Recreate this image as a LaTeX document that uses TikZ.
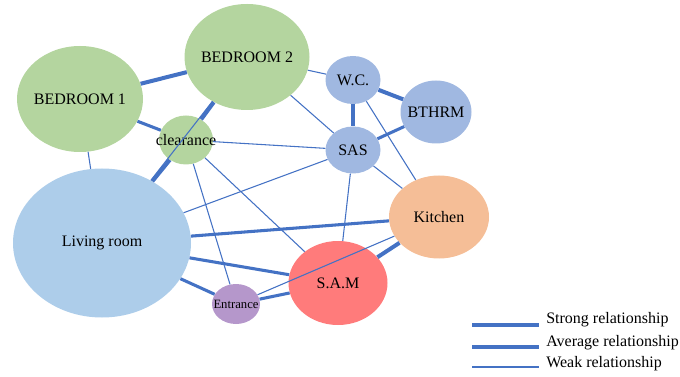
\documentclass[tikz,border=0pt]{standalone}
\usepackage{xcolor}
\usepackage{fontspec}
\setmainfont{Liberation Serif}
\usepackage{tikz}
\usetikzlibrary{shapes.geometric}

\definecolor{roomgreen}{HTML}{B4D59F}
\definecolor{roomblue}{HTML}{A0B8E1}
\definecolor{livblue}{HTML}{ADCDEA}
\definecolor{kitorange}{HTML}{F5BE97}
\definecolor{samred}{HTML}{FF7B7B}
\definecolor{entpurple}{HTML}{B597CB}
\definecolor{linkblue}{HTML}{4472C4}

\begin{document}
\begin{tikzpicture}[x=0.75pt,y=0.75pt,yscale=-1,xscale=1,
  room/.style={ellipse,inner sep=0pt,draw=none},
  strong/.style={draw=linkblue,line width=3pt},
  average/.style={draw=linkblue,line width=2.3pt},
  weak/.style={draw=linkblue,line width=0.8pt},
  every label/.style={font=\fontsize{12}{14}\selectfont,inner sep=0pt}]
\useasboundingbox (0,0) rectangle (680,377);

%Shape: Ellipse [id:bedroom1]
\node[room,fill=roomgreen,minimum width=94.5pt,minimum height=79.5pt,label=center:BEDROOM 1] (bed1) at (80,99) {};
%Shape: Ellipse [id:bedroom2]
\node[room,fill=roomgreen,minimum width=93.75pt,minimum height=79.5pt,label=center:BEDROOM 2] (bed2) at (247,57) {};
%Shape: Ellipse [id:clearance]
\node[room,fill=roomgreen,minimum width=40.5pt,minimum height=36.75pt,label=center:clearance] (clr) at (186,140) {};
%Shape: Ellipse [id:wc]
\node[room,fill=roomblue,minimum width=41.25pt,minimum height=36pt,label=center:W.C.] (wc) at (353,80) {};
%Shape: Ellipse [id:bathroom]
\node[room,fill=roomblue,minimum width=53.25pt,minimum height=47.25pt,label=center:BTHRM] (bth) at (436,112) {};
%Shape: Ellipse [id:sas]
\node[room,fill=roomblue,minimum width=41.25pt,minimum height=35.25pt,label=center:SAS] (sas) at (353,150) {};
%Shape: Ellipse [id:kitchen]
\node[room,fill=kitorange,minimum width=75pt,minimum height=62.25pt,label=center:Kitchen] (kit) at (439,217) {};
%Shape: Ellipse [id:sam]
\node[room,fill=samred,minimum width=74.25pt,minimum height=63pt,label=center:S.A.M] (sam) at (338,283) {};
%Shape: Ellipse [id:living]
\node[room,fill=livblue,minimum width=133.5pt,minimum height=111.75pt,label=center:Living room] (liv) at (102,243) {};
%Shape: Ellipse [id:entrance]
\node[room,fill=entpurple,minimum width=36pt,minimum height=30pt,label={[font=\fontsize{9.5}{11}\selectfont]center:Entrance}] (ent) at (236,304) {};

% Strong links
\draw[strong] (bed1) -- (bed2);
\draw[strong] (clr) -- (bed2);
\draw[strong] (clr) -- (liv);
\draw[strong] (wc) -- (bth);
\draw[strong] (wc) -- (sas);
\draw[strong] (sam) -- (kit);
% Average links
\draw[average] (bed1) -- (clr);
\draw[average] (sas) -- (bth);
\draw[average] (liv) -- (kit);
\draw[average] (liv) -- (sam);
\draw[average] (liv) -- (ent);
\draw[average] (ent) -- (sam);
% Weak links
\draw[weak] (bed1) -- (liv);
\draw[weak] (bed2) -- (wc);
\draw[weak] (bed2) -- (sas);
\draw[weak] (bed2) -- (liv);
\draw[weak] (clr) -- (sas);
\draw[weak] (clr) -- (ent);
\draw[weak] (clr) -- (sam);
\draw[weak] (liv) -- (sas);
\draw[weak] (ent) -- (kit);
\draw[weak] (sas) -- (sam);
\draw[weak] (sas) -- (kit);
\draw[weak] (wc) -- (kit);

% Legend
\coordinate (lgS) at (472,325);
\coordinate (lgA) at (472,347);
\coordinate (lgW) at (472,367);
\node[anchor=west,inner sep=0pt,font=\fontsize{12}{14}\selectfont] (txS) at (546,320) {Strong relationship};
\node[anchor=west,inner sep=0pt,font=\fontsize{12}{14}\selectfont] (txA) at (546,343) {Average relationship};
\node[anchor=west,inner sep=0pt,font=\fontsize{12}{14}\selectfont] (txW) at (546,364) {Weak relationship};
\draw[strong] (lgS) -- ++(67,0);
\draw[average] (lgA) -- ++(67,0);
\draw[weak] (lgW) -- ++(67,0);

\end{tikzpicture}
\end{document}
